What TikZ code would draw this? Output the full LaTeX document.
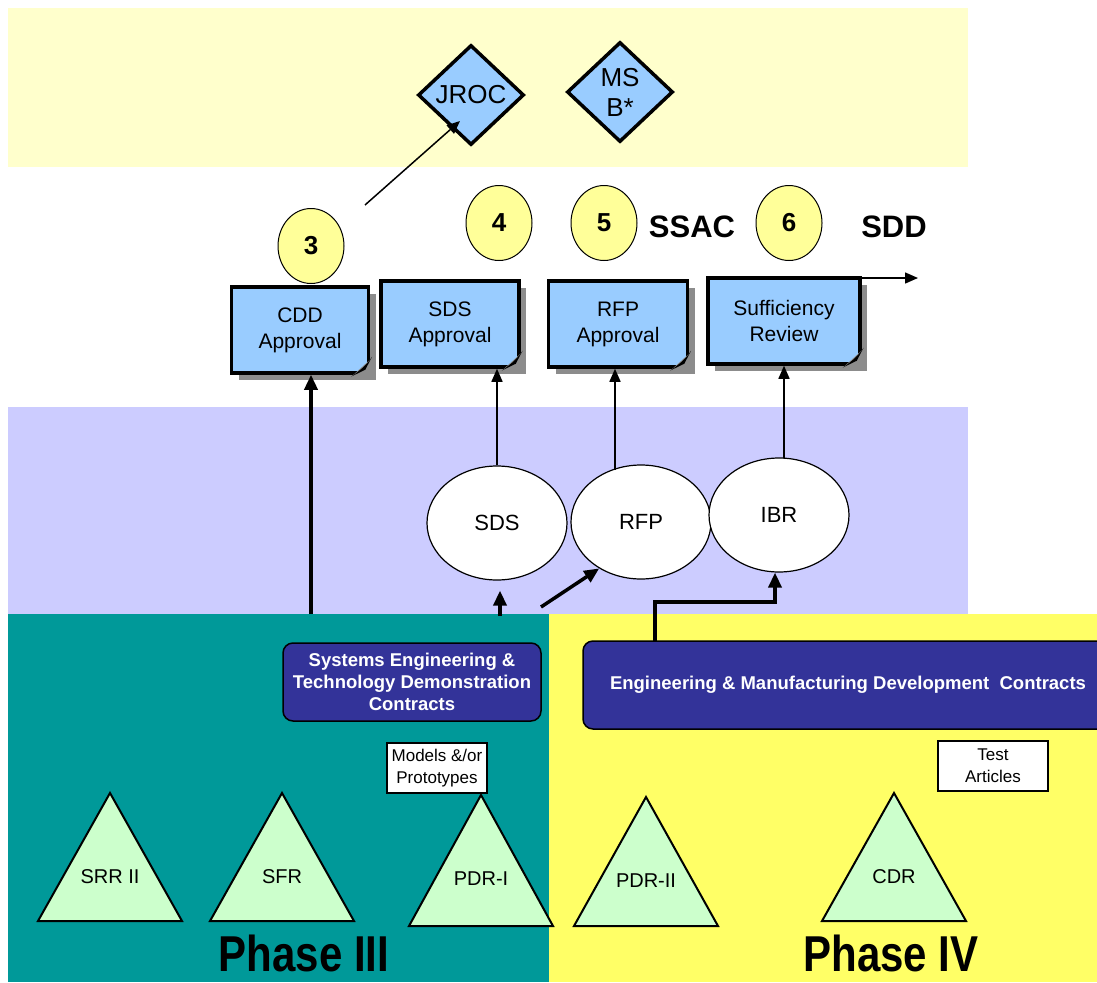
\documentclass[tikz,border=0pt]{standalone}
\usepackage{fontspec}
\setmainfont{Liberation Sans}
\usetikzlibrary{shapes.geometric,arrows.meta,shadows}
\definecolor{paleyel}{HTML}{FFFFCC}
\definecolor{lavband}{HTML}{CCCCFF}
\definecolor{tealband}{HTML}{009999}
\definecolor{yelband}{HTML}{FFFF66}
\definecolor{docblue}{HTML}{99CCFF}
\definecolor{contractblue}{HTML}{333399}
\definecolor{numyel}{HTML}{FFFF99}
\definecolor{trigreen}{HTML}{CCFFCC}
\tikzset{
  milestone/.style={diamond,draw,line width=3.5pt,fill=docblue,minimum width=106pt,minimum height=100pt,inner sep=0pt,align=center,font=\fontsize{26}{30}\selectfont},
  numball/.style={ellipse,draw,line width=1pt,fill=numyel,minimum width=66pt,minimum height=75pt,inner sep=0pt,font=\fontsize{26}{26}\selectfont\bfseries},
  boldword/.style={font=\fontsize{31}{31}\selectfont\bfseries},
  docbox/.style={rectangle,draw,line width=3.5pt,fill=docblue,minimum height=86pt,inner sep=0pt,align=center,font=\fontsize{21}{26}\selectfont,drop shadow={shadow xshift=7pt,shadow yshift=-7pt,fill=black!45,opacity=1}},
  review/.style={ellipse,draw,line width=1.2pt,fill=white,minimum width=140pt,minimum height=114pt,font=\fontsize{22}{22}\selectfont},
  contract/.style={rectangle,rounded corners=10pt,draw,line width=1.5pt,fill=contractblue,text=white,align=center,inner sep=0pt,font=\fontsize{18.5}{22}\selectfont\bfseries},
  itembox/.style={rectangle,draw,line width=2pt,fill=white,align=center,inner sep=0pt,font=\fontsize{17}{22}\selectfont},
  tri/.style={draw,line width=2pt,fill=trigreen},
  trilabel/.style={font=\fontsize{20}{20}\selectfont},
  phase/.style={inner sep=0pt,font=\fontsize{42}{42}\selectfont\bfseries},
  thin/.style={->,line width=1.5pt},
  fat/.style={->,line width=3.5pt,>={Triangle[length=15pt,width=13pt]}}
}
\begin{document}
\begin{tikzpicture}[x=1pt,y=-1pt,>={Triangle[length=13pt,width=11pt]}]
\useasboundingbox (0,0) rectangle (1097,982);
\fill[paleyel] (8,8) rectangle (968,167);
\fill[lavband] (8,407) rectangle (968,614);
\fill[tealband] (8,614) rectangle (549,982);
\fill[yelband] (549,614) rectangle (1097,982);

\node[milestone] (jroc) at (471,95) {JROC};
\node[milestone] (msb) at (620,92) {MS\\B*};

\node[numball] (n3) at (311,246) {3};
\node[numball] (n4) at (499,223) {4};
\node[numball] (n5) at (604,223) {5};
\node[numball] (n6) at (789,223) {6};
\node[boldword] (ssac) at (692,227) {SSAC};
\node[boldword] (sdd) at (894,227) {SDD};

\node[docbox,minimum width=137pt] (cdd) at (300,330) {CDD\\Approval};
\node[docbox,minimum width=138pt] (sdsapp) at (450,324) {SDS\\Approval};
\node[docbox,minimum width=139pt] (rfpapp) at (618,324) {RFP\\Approval};
\node[docbox,minimum width=152pt] (suff) at (784,321) {Sufficiency\\Review};
\foreach \n in {cdd,sdsapp,rfpapp,suff}{
  \fill[black!45] ([shift={(-19pt,-2pt)}]\n.south east) -- ([shift={(3pt,-2pt)}]\n.south east) -- ([shift={(3pt,18pt)}]\n.south east) -- cycle;
  \fill ([shift={(-19pt,-1.8pt)}]\n.south east) .. controls ([shift={(-12pt,3pt)}]\n.south east) and ([shift={(-4pt,9pt)}]\n.south east) .. ([shift={(1.8pt,18pt)}]\n.south east) -- ([shift={(-5pt,5pt)}]\n.south east) -- cycle;
}

\node[review] (sds) at (497,523) {SDS};
\node[review] (rfp) at (641,522) {RFP};
\node[review] (ibr) at (779,515) {IBR};

\node[contract,minimum width=258pt,minimum height=78pt] (setd) at (412,682) {Systems Engineering \&\\Technology Demonstration\\Contracts};
\node[contract,minimum width=530pt,minimum height=88pt] (emd) at (848,685) {Engineering \& Manufacturing Development\ \ Contracts};
\node[itembox,minimum width=100pt,minimum height=50pt] (models) at (437,768) {Models \&/or\\Prototypes};
\node[itembox,minimum width=110pt,minimum height=50pt] (tests) at (993,766) {Test\\Articles};

\foreach \x/\y/\h/\lab in {110/793/128/SRR II,282/793/128/SFR,481/795/131/PDR-I,646/797/129/PDR-II,894/793/128/CDR}{
  \draw[tri] (\x,\y) -- ++(72,\h) -- ++(-144,0) -- cycle;
  \node[trilabel] at (\x,\y+84) {\lab};
}
\node[phase] (ph3) at (304,953) {\scalebox{1}[1.2]{Phase III}};
\node[phase] (ph4) at (891,953) {\scalebox{1}[1.2]{Phase IV}};

\coordinate (jrocfoot) at (365,205);
\coordinate (jroctip) at (460,121);
\coordinate (sddtip) at (918,278);
\coordinate (cddfoot) at (311,614);
\coordinate (sdsfoot) at (500,616);
\coordinate (rfpfoot) at (541,607);
\coordinate (rfptop) at (615,470);
\coordinate (ibrtop) at (784,458);
\coordinate (emdtap) at (655,641);
\coordinate (elbow) at (775,602);

\draw[thin] (jrocfoot) -- (jroctip);
\draw[thin] ([yshift=-1.75pt]suff.north east) -- ([yshift=-1.75pt]suff.north east -| sddtip);
\draw[fat] (cddfoot) -- (cddfoot |- cdd.south);
\draw[thin] (sds.north) -- (sds.north |- sdsapp.south);
\draw[thin] (rfptop) -- (rfptop |- rfpapp.south);
\draw[thin] (ibrtop) -- (ibrtop |- suff.south);
\draw[fat] (sdsfoot) -- ([yshift=-10pt]sdsfoot |- sds.south);
\draw[fat] (rfpfoot) -- (rfp.-132);
\draw[fat] (emdtap) |- (elbow) -- (elbow |- ibr.south);
\end{tikzpicture}
\end{document}
